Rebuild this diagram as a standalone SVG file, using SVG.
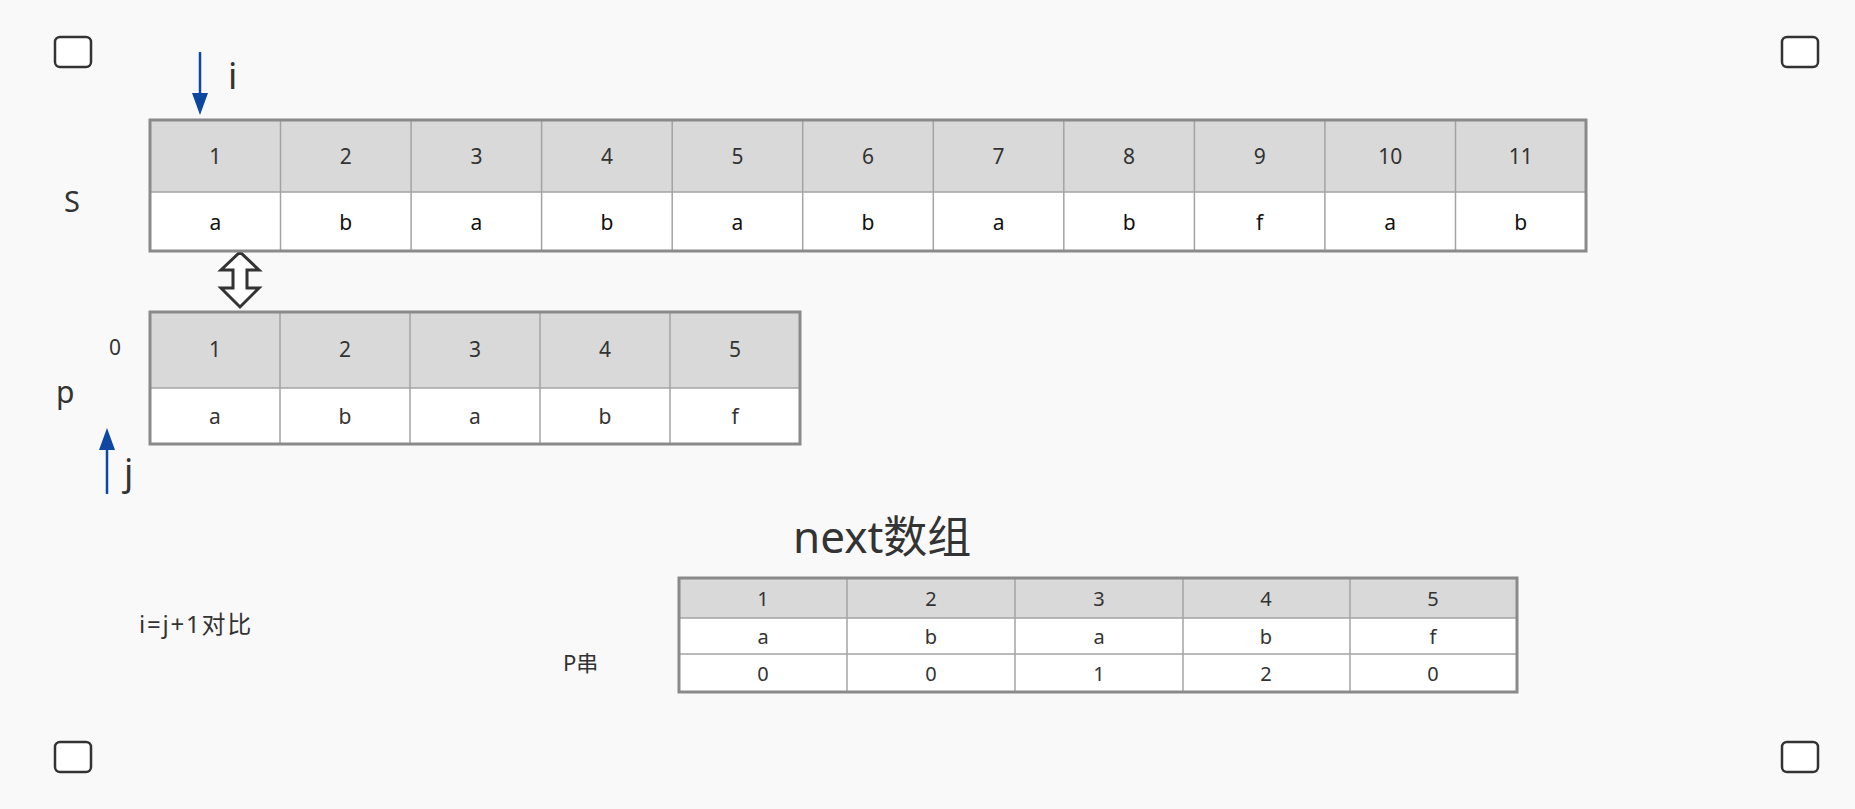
<svg xmlns="http://www.w3.org/2000/svg" width="1855" height="809" viewBox="0 0 1855 809">
<style>
.t{font-family:"Noto Sans","Open Sans","Noto Sans CJK SC",sans-serif;fill:#333;text-anchor:middle}
.hd{fill:#d9d9d9}
.dt{fill:#fff}
.ob{fill:none;stroke:#8a8a8a;stroke-width:3}
.il{stroke:#a3a3a3;stroke-width:1.5}
.corner{fill:#fff;stroke:#333;stroke-width:2.5}
.lbl{font-family:"Noto Sans","Open Sans","Noto Sans CJK SC",sans-serif;fill:#333}
.cjk{font-family:"Noto Sans","Noto Sans CJK SC",sans-serif;fill:#333}
</style>
<rect width="1855" height="809" fill="#f9f9f9"/>
<g id="corners">
<rect class="corner" x="55" y="37" width="36" height="30" rx="5"/>
<rect class="corner" x="1782" y="37" width="36" height="30" rx="5"/>
<rect class="corner" x="55" y="742" width="36" height="30" rx="5"/>
<rect class="corner" x="1782" y="742" width="36" height="30" rx="5"/>
</g>
<g id="connectors">
<line x1="200" y1="52" x2="200" y2="96" stroke="#0d47a1" stroke-width="2.5"/>
<polygon points="192,93 208,93 200,115" fill="#0d47a1"/>
<line x1="107" y1="494" x2="107" y2="448" stroke="#0d47a1" stroke-width="2.5"/>
<polygon points="99,450 115,450 107,428" fill="#0d47a1"/>
<path d="M240,252 L259,270 L247,270 L247,288 L259,288 L240,307 L221,288 L233,288 L233,270 L221,270 Z" fill="#fff" stroke="#333" stroke-width="3" stroke-linejoin="miter"/>
</g>
<g id="labels">
<text class="lbl" x="228" y="89" font-size="36">i</text>
<text class="lbl" x="124" y="485" font-size="36">j</text>
<text class="lbl" x="64" y="212" font-size="29">S</text>
<text class="lbl" x="56" y="403" font-size="30">p</text>
<text class="lbl" x="109" y="355" font-size="21">0</text>
<text class="cjk" x="793" y="553" font-size="44">next数组</text>
<text class="cjk" x="139" y="633" font-size="24" letter-spacing="1.8">i=j+1对比</text>
<text class="cjk" x="563" y="671" font-size="22">P串</text>
</g>
<g id="S-table">
<rect class="hd" x="150" y="120" width="1436" height="72"/>
<rect class="dt" x="150" y="192" width="1436" height="59"/>
<line class="il" x1="150" y1="192" x2="1586" y2="192"/>
<g class="il">
<line x1="280.5" y1="120" x2="280.5" y2="251"/>
<line x1="411.1" y1="120" x2="411.1" y2="251"/>
<line x1="541.6" y1="120" x2="541.6" y2="251"/>
<line x1="672.2" y1="120" x2="672.2" y2="251"/>
<line x1="802.7" y1="120" x2="802.7" y2="251"/>
<line x1="933.3" y1="120" x2="933.3" y2="251"/>
<line x1="1063.8" y1="120" x2="1063.8" y2="251"/>
<line x1="1194.4" y1="120" x2="1194.4" y2="251"/>
<line x1="1324.9" y1="120" x2="1324.9" y2="251"/>
<line x1="1455.5" y1="120" x2="1455.5" y2="251"/>
</g>
<rect class="ob" x="150" y="120" width="1436" height="131"/>
<g class="t" font-size="21">
<text x="215.3" y="164">1</text><text x="345.8" y="164">2</text><text x="476.4" y="164">3</text><text x="606.9" y="164">4</text><text x="737.5" y="164">5</text><text x="868" y="164">6</text><text x="998.6" y="164">7</text><text x="1129.1" y="164">8</text><text x="1259.7" y="164">9</text><text x="1390.2" y="164">10</text><text x="1520.8" y="164">11</text>
</g>
<g class="t" font-size="21" style="fill:#111">
<text x="215.3" y="230">a</text><text x="345.8" y="230">b</text><text x="476.4" y="230">a</text><text x="606.9" y="230">b</text><text x="737.5" y="230">a</text><text x="868" y="230">b</text><text x="998.6" y="230">a</text><text x="1129.1" y="230">b</text><text x="1259.7" y="230">f</text><text x="1390.2" y="230">a</text><text x="1520.8" y="230">b</text>
</g>
</g>
<g id="P-table">
<rect class="hd" x="150" y="312" width="650" height="76"/>
<rect class="dt" x="150" y="388" width="650" height="56"/>
<line class="il" x1="150" y1="388" x2="800" y2="388"/>
<g class="il">
<line x1="280" y1="312" x2="280" y2="444"/>
<line x1="410" y1="312" x2="410" y2="444"/>
<line x1="540" y1="312" x2="540" y2="444"/>
<line x1="670" y1="312" x2="670" y2="444"/>
</g>
<rect class="ob" x="150" y="312" width="650" height="132"/>
<g class="t" font-size="21">
<text x="215" y="357">1</text><text x="345" y="357">2</text><text x="475" y="357">3</text><text x="605" y="357">4</text><text x="735" y="357">5</text>
<text x="215" y="424">a</text><text x="345" y="424">b</text><text x="475" y="424">a</text><text x="605" y="424">b</text><text x="735" y="424">f</text>
</g>
</g>
<g id="next-table">
<rect class="hd" x="679" y="578" width="838" height="40"/>
<rect class="dt" x="679" y="618" width="838" height="74"/>
<g class="il">
<line x1="679" y1="618" x2="1517" y2="618"/>
<line x1="679" y1="654" x2="1517" y2="654"/>
<line x1="847" y1="578" x2="847" y2="692"/>
<line x1="1015" y1="578" x2="1015" y2="692"/>
<line x1="1183" y1="578" x2="1183" y2="692"/>
<line x1="1350" y1="578" x2="1350" y2="692"/>
</g>
<rect class="ob" x="679" y="578" width="838" height="114"/>
<g class="t" font-size="20">
<text x="763" y="606">1</text><text x="931" y="606">2</text><text x="1099" y="606">3</text><text x="1266" y="606">4</text><text x="1433" y="606">5</text>
<text x="763" y="644">a</text><text x="931" y="644">b</text><text x="1099" y="644">a</text><text x="1266" y="644">b</text><text x="1433" y="644">f</text>
<text x="763" y="681">0</text><text x="931" y="681">0</text><text x="1099" y="681">1</text><text x="1266" y="681">2</text><text x="1433" y="681">0</text>
</g>
</g>
</svg>
